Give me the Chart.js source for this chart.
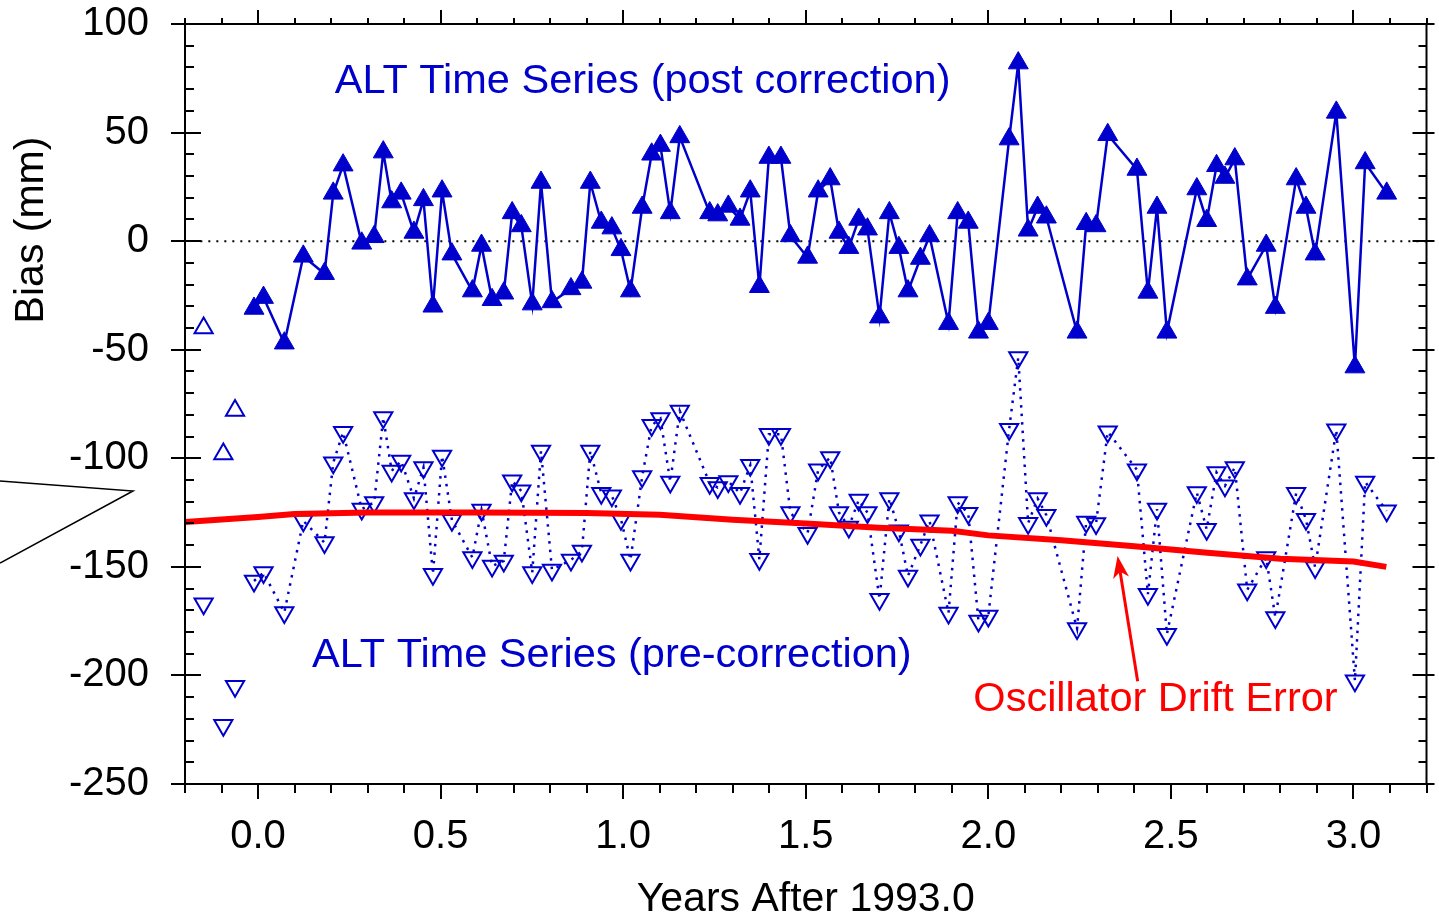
<!DOCTYPE html>
<html>
<head>
<meta charset="utf-8">
<title>ALT bias time series</title>
<script src="https://cdn.jsdelivr.net/npm/chart.js@4.4.1/dist/chart.umd.min.js"></script>
<style>
  html, body { margin: 0; padding: 0; background: #fff; }
  #wrap { width: 1439px; height: 917px; }
</style>
</head>
<body>
<div id="wrap"><canvas id="biasChart" width="1439" height="917"></canvas></div>
<script>
// Years after 1993.0 for each ALT cycle average
const years = [
    -0.011, 0.015, 0.072, 0.124, 0.182, 0.206, 0.233, 0.284, 0.318, 0.343,
    0.366, 0.392, 0.427, 0.453, 0.479, 0.504, 0.531, 0.587, 0.612, 0.641,
    0.673, 0.696, 0.721, 0.751, 0.775, 0.805, 0.857, 0.887, 0.910, 0.940,
    0.969, 0.994, 1.020, 1.052, 1.078, 1.102, 1.129, 1.155, 1.237, 1.259,
    1.288, 1.320, 1.348, 1.373, 1.399, 1.432, 1.458, 1.505, 1.534, 1.567,
    1.591, 1.618, 1.645, 1.669, 1.702, 1.729, 1.755, 1.780, 1.814, 1.839,
    1.891, 1.916, 1.945, 1.973, 2.000, 2.057, 2.082, 2.109, 2.135, 2.159,
    2.243, 2.268, 2.295, 2.327, 2.407, 2.437, 2.462, 2.489, 2.571, 2.598,
    2.625, 2.648, 2.675, 2.709, 2.761, 2.786, 2.843, 2.870, 2.895, 2.953,
    3.004, 3.032, 3.091
];

// Bias (mm) after the oscillator drift correction
const postCorrection = [
    -31, -26, -47, -7, -15, 22, 35, -1, 2, 41,
    18, 22, 4, 19, -30, 23, -6, -23, -2, -27,
    -24, 13, 7, -29, 27, -28, -22, -19, 27, 8.6,
    6, -4, -23, 15.5, 40, 44, 13, 48, 13, 12,
    16, 10, 23, -21, 38.5, 38.5, 2.4, -7.5, 23, 28.6,
    4, -3, 10, 5.5, -35, 13, -3, -23, -8, 2.4,
    -38, 13, 8.6, -42, -38, 47, 82, 5, 15.5, 11,
    -42, 8, 7, 49, 33, -23.6, 15.5, -42, 24, 9.4,
    34.7, 29.3, 37.8, -17.5, -2, -30.6, 28.6, 15.5, -6, 59.3,
    -58, 36, 22
];

// Bias (mm) before the correction
const preCorrection = [
    -156.5, -152.6, -171, -128.8, -138.8, -102, -88, -123.4, -120.4, -81.2,
    -105.8, -101.2, -118.5, -104.2, -153.4, -98.9, -128.5, -145.7, -123.8, -149.6,
    -147.3, -110.4, -115, -152.6, -96.6, -151.4, -146.8, -142.7, -96.6, -116.1,
    -117.3, -128.1, -146.8, -108.4, -84.8, -81.7, -110.9, -78.2, -111.5, -113.5,
    -110.7, -116.1, -103.2, -146.5, -88.9, -88.9, -125, -134.5, -105.3, -99.6,
    -125, -131.6, -119.2, -125, -164.9, -118.5, -133.4, -154.2, -139.9, -128.8,
    -171.3, -120.4, -125.3, -174.9, -172.6, -86.6, -53.6, -129.9, -118.5, -126.2,
    -178.4, -129.3, -130, -87.8, -105.3, -162.6, -123.4, -181, -115.8, -132.7,
    -106.5, -112.7, -104.2, -160.6, -145.7, -173.3, -116.1, -128.1, -150.3, -86.9,
    -202.5, -110.9, -124.2
];

// early cycles, plotted as loose open symbols
const earlyYears = [-0.149, -0.095, -0.063];
const earlyPost = [-40, -98, -78];
const earlyPre = [-167, -223, -205];

// oscillator drift error curve
const driftYears = [-0.2, 0.0, 0.1, 0.3, 0.6, 0.9, 1.1, 1.3, 1.5, 1.7, 1.9, 2.0, 2.2, 2.4, 2.6, 2.8, 3.0, 3.09];
const driftError = [-129.3, -127, -125.7, -125, -125, -125.2, -126, -128.3, -130, -132, -133.4, -135.5, -137.8, -140.5, -143.5, -146.3, -147.5, -150];

const zeroLineYears = [-0.158, 3.2];
const zeroLineBias = [0, 0];

const xTicks = [0, 0.5, 1.0, 1.5, 2.0, 2.5, 3.0];
const yTicks = [-250, -200, -150, -100, -50, 0, 50, 100];

const blue = 'rgb(0, 0, 204)';
const red = 'rgb(255, 0, 0)';
const fontFamily = "'Liberation Sans', Arial, sans-serif";

function toPoints(xs, ys) {
    return xs.map((x, i) => ({ x: x, y: ys[i] }));
}

// frame, minor ticks and the free text / arrow annotations
const framePlugin = {
    id: 'framePlugin',
    afterDraw(chart) {
        const ctx = chart.ctx;
        const a = chart.chartArea;
        const xs = chart.scales.x;
        const ys = chart.scales.y;
        ctx.save();

        ctx.strokeStyle = '#000';
        ctx.lineWidth = 2;
        ctx.strokeRect(a.left, a.top, a.right - a.left, a.bottom - a.top);

        ctx.beginPath();
        for (let i = -2; i <= 32; i++) {
            const px = Math.round(xs.getPixelForValue(i / 10));
            const major = i % 5 === 0;
            ctx.moveTo(px, a.bottom);
            ctx.lineTo(px, a.bottom + (major ? 15 : 9));
            ctx.moveTo(px, a.top);
            ctx.lineTo(px, a.top - (major ? 14 : 6));
        }
        for (let v = -250; v <= 100; v += 10) {
            const py = Math.round(ys.getPixelForValue(v));
            if (v % 50 === 0) {
                ctx.moveTo(a.left - 14, py); ctx.lineTo(a.left + 16, py);
                ctx.moveTo(a.right - 14, py); ctx.lineTo(a.right + 8, py);
            } else {
                ctx.moveTo(a.left, py); ctx.lineTo(a.left + 9, py);
                ctx.moveTo(a.right, py); ctx.lineTo(a.right - 8, py);
            }
        }
        ctx.stroke();

        // axis titles
        ctx.fillStyle = '#000';
        ctx.font = '41px ' + fontFamily;
        ctx.textAlign = 'center';
        ctx.textBaseline = 'middle';
        ctx.fillText('Years After 1993.0', (a.left + a.right) / 2, 900);
        ctx.save();
        ctx.translate(32, 230);
        ctx.rotate(-Math.PI / 2);
        ctx.fillText('Bias (mm)', 0, 0);
        ctx.restore();

        // series labels
        ctx.textAlign = 'left';
        ctx.font = '41.5px ' + fontFamily;
        ctx.fillStyle = blue;
        ctx.fillText('ALT Time Series (post correction)', xs.getPixelForValue(0.21), ys.getPixelForValue(73.5));
        ctx.fillText('ALT Time Series (pre-correction)', xs.getPixelForValue(0.148), ys.getPixelForValue(-191));
        ctx.fillStyle = red;
        ctx.fillText('Oscillator Drift Error', xs.getPixelForValue(1.959), ys.getPixelForValue(-211));

        // arrow to the drift curve
        const tx = xs.getPixelForValue(2.354), ty = ys.getPixelForValue(-145);
        const sx = xs.getPixelForValue(2.409), sy = ys.getPixelForValue(-202.7);
        const ang = Math.atan2(ty - sy, tx - sx);
        ctx.strokeStyle = red;
        ctx.lineWidth = 3;
        ctx.beginPath();
        ctx.moveTo(sx, sy);
        ctx.lineTo(tx - Math.cos(ang) * 12, ty - Math.sin(ang) * 12);
        ctx.stroke();
        ctx.fillStyle = red;
        ctx.beginPath();
        ctx.moveTo(tx, ty);
        ctx.lineTo(tx - Math.cos(ang) * 22 - Math.sin(ang) * 8, ty - Math.sin(ang) * 22 + Math.cos(ang) * 8);
        ctx.lineTo(tx - Math.cos(ang) * 16, ty - Math.sin(ang) * 16);
        ctx.lineTo(tx - Math.cos(ang) * 22 + Math.sin(ang) * 8, ty - Math.sin(ang) * 22 - Math.cos(ang) * 8);
        ctx.closePath();
        ctx.fill();

        // callout wedge at the left margin
        ctx.strokeStyle = '#000';
        ctx.lineWidth = 1.5;
        ctx.beginPath();
        ctx.moveTo(0, 481);
        ctx.lineTo(133, 491);
        ctx.lineTo(0, 563);
        ctx.stroke();

        ctx.restore();
    }
};

const ctx = document.getElementById('biasChart').getContext('2d');
const biasChart = new Chart(ctx, {
    type: 'scatter',
    data: {
        datasets: [
            {
                label: 'zero',
                data: toPoints(zeroLineYears, zeroLineBias),
                showLine: true,
                borderColor: '#000',
                borderWidth: 2,
                borderDash: [2, 6],
                pointRadius: 0,
                order: 6
            },
            {
                label: 'ALT Time Series (pre-correction)',
                data: toPoints(years, preCorrection),
                showLine: true,
                borderColor: blue,
                borderWidth: 2.5,
                borderDash: [2.5, 6],
                pointStyle: 'triangle',
                rotation: 180,
                pointRadius: 10.5,
                pointBorderWidth: 2,
                pointBorderColor: blue,
                pointBackgroundColor: 'rgba(0,0,0,0)',
                order: 3
            },
            {
                label: 'early pre',
                data: toPoints(earlyYears, earlyPre),
                showLine: false,
                pointStyle: 'triangle',
                rotation: 180,
                pointRadius: 10.5,
                pointBorderWidth: 2,
                pointBorderColor: blue,
                pointBackgroundColor: 'rgba(0,0,0,0)',
                order: 3
            },
            {
                label: 'early post',
                data: toPoints(earlyYears, earlyPost),
                showLine: false,
                pointStyle: 'triangle',
                pointRadius: 10.5,
                pointBorderWidth: 2,
                pointBorderColor: blue,
                pointBackgroundColor: 'rgba(0,0,0,0)',
                order: 3
            },
            {
                label: 'Oscillator Drift Error',
                data: toPoints(driftYears, driftError),
                showLine: true,
                borderColor: red,
                borderWidth: 6,
                pointRadius: 0,
                order: 1
            },
            {
                label: 'ALT Time Series (post correction)',
                data: toPoints(years, postCorrection),
                showLine: true,
                borderColor: blue,
                borderWidth: 2.5,
                pointStyle: 'triangle',
                pointRadius: 11.5,
                pointBorderWidth: 1,
                pointBorderColor: blue,
                pointBackgroundColor: blue,
                order: 2
            }
        ]
    },
    options: {
        responsive: false,
        animation: false,
        events: [],
        layout: { padding: { top: 24, right: 7, left: 0, bottom: 0 } },
        elements: { line: { tension: 0 } },
        plugins: {
            legend: { display: false },
            tooltip: { enabled: false }
        },
        scales: {
            x: {
                type: 'linear',
                min: -0.2,
                max: 3.2,
                afterFit: function(scale) {
                    scale.height = 133;
                    scale.paddingLeft = 0;
                    scale.paddingRight = 0;
                },
                afterBuildTicks: function(scale) { scale.ticks = xTicks.map(v => ({ value: v })); },
                grid: { display: false, drawTicks: false },
                border: { display: false },
                ticks: {
                    padding: 29,
                    color: '#000',
                    font: { size: 40, family: fontFamily },
                    callback: function(value) { return Number(value).toFixed(1); }
                }
            },
            y: {
                type: 'linear',
                min: -250,
                max: 100,
                afterFit: function(scale) {
                    scale.width = 185;
                    scale.paddingTop = 0;
                    scale.paddingBottom = 0;
                },
                afterBuildTicks: function(scale) { scale.ticks = yTicks.map(v => ({ value: v })); },
                grid: { display: false, drawTicks: false },
                border: { display: false },
                ticks: {
                    padding: 36,
                    color: '#000',
                    font: { size: 40, family: fontFamily },
                    callback: function(value) { return String(value); }
                }
            }
        }
    },
    plugins: [framePlugin]
});
</script>
</body>
</html>
